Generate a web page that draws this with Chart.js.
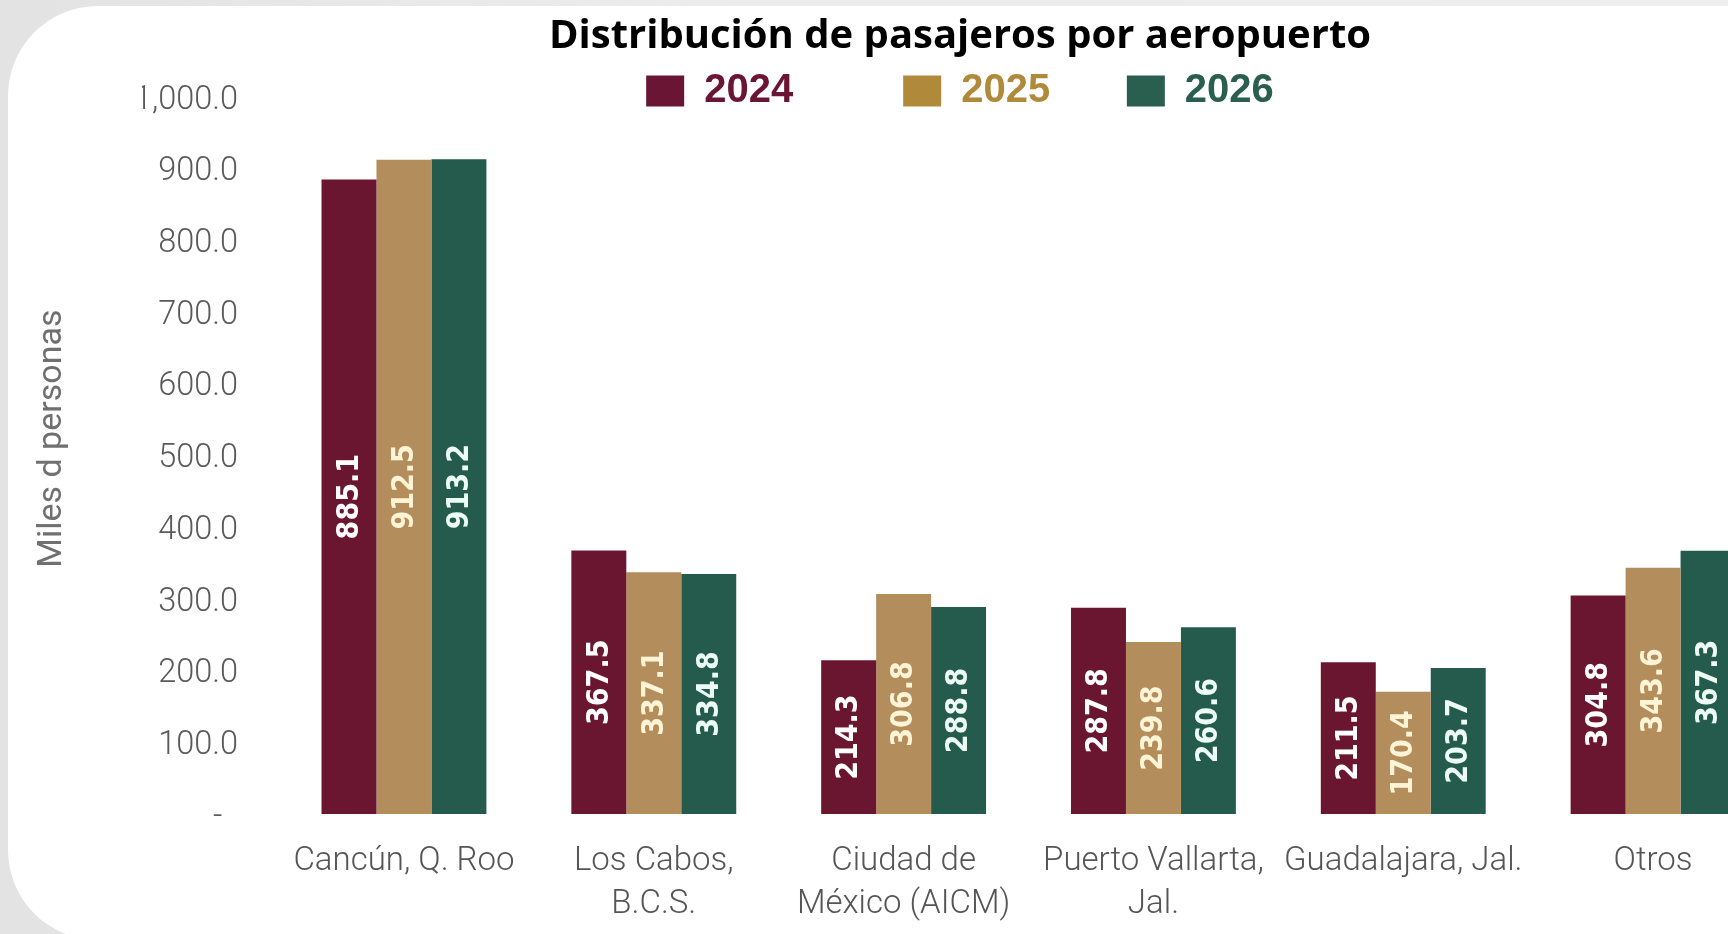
<!DOCTYPE html>
<html>
<head>
<meta charset="utf-8">
<script src="https://cdn.jsdelivr.net/npm/chart.js@4.4.1/dist/chart.umd.min.js"></script>
<style>
  html, body { margin: 0; padding: 0; width: 1728px; height: 934px; overflow: hidden; }
  body { background: linear-gradient(to right, #e3e3e3, #ececec 40%, #eeeeee); position: relative; }
  #card { position: absolute; left: 8px; top: 6px; width: 2000px; height: 934px; background: #ffffff;
          border-radius: 90px 0 0 90px; }
  #c { position: absolute; left: 0; top: 0; }
</style>
</head>
<body>
<div id="card"></div>
<canvas id="c" width="1800" height="952"></canvas>
<script>
// ---- data ----
const categories = [
  ['Cancún, Q. Roo'],
  ['Los Cabos,', 'B.C.S.'],
  ['Ciudad de', 'México (AICM)'],
  ['Puerto Vallarta,', 'Jal.'],
  ['Guadalajara, Jal.'],
  ['Otros']
];
const seriesNames = ['2024', '2025', '2026'];
const values2024 = [885.1, 367.5, 214.3, 287.8, 211.5, 304.8];
const values2025 = [912.5, 337.1, 306.8, 239.8, 170.4, 343.6];
const values2026 = [913.2, 334.8, 288.8, 260.6, 203.7, 367.3];
const yTicks = [0, 100, 200, 300, 400, 500, 600, 700, 800, 900, 1000];

const chartTitle = 'Distribución de pasajeros por aeropuerto';
const yTitle = 'Miles d personas';

// ---- styles ----
const barColors = ['#6a1631', '#b38e5c', '#245b4d'];
const legendColors = ['#6b1535', '#b08a3a', '#2a5e4e'];
const valueLabelColors = ['#ffffff', '#fff4d6', '#ecfbf3'];
const legendGapSpaces = [9, 6, 0];

const barLabelsPlugin = {
  id: 'barLabels',
  afterDatasetsDraw(chart) {
    const ctx = chart.ctx;
    chart.data.datasets.forEach((ds, i) => {
      const meta = chart.getDatasetMeta(i);
      meta.data.forEach((bar, j) => {
        const p = bar.getProps(['x', 'y', 'base'], true);
        ctx.save();
        ctx.translate(p.x, (p.y + p.base) / 2);
        ctx.rotate(-Math.PI / 2);
        ctx.font = 'bold 30px "DejaVu Sans Condensed", "DejaVu Sans", sans-serif';
        ctx.fillStyle = valueLabelColors[i];
        ctx.textAlign = 'center';
        ctx.textBaseline = 'middle';
        ctx.fillText(ds.data[j].toFixed(1), 0, 1);
        ctx.restore();
      });
    });
  }
};

// legend box is kept short in the layout so the plot can start right under it;
// widen its clip box afterwards so the items are not cut.
const legendOverflowPlugin = {
  id: 'legendOverflow',
  afterLayout(chart) {
    const lg = chart.legend;
    if (lg) { lg.height = 70; lg.bottom = lg.top + 70; }
  }
};

const datasets = [values2024, values2025, values2026].map((vals, i) => ({
  label: seriesNames[i],
  data: vals,
  backgroundColor: barColors[i],
  borderWidth: 0,
  categoryPercentage: 0.66,
  barPercentage: 1.0,
  clip: false
}));

new Chart(document.getElementById('c'), {
  type: 'bar',
  data: { labels: categories, datasets },
  plugins: [barLabelsPlugin, legendOverflowPlugin],
  options: {
    responsive: false,
    devicePixelRatio: 1,
    animation: false,
    layout: { padding: { left: 142, right: 22, top: 0, bottom: 0 } },
    plugins: {
      tooltip: { enabled: false },
      title: {
        display: true,
        text: chartTitle,
        color: '#000000',
        font: { family: '"Open Sans", "Noto Sans", sans-serif', size: 40, weight: 'bold', lineHeight: 1.2 },
        padding: { top: 13, bottom: 0 }
      },
      legend: {
        display: true,
        position: 'top',
        maxHeight: 36,
        labels: {
          boxWidth: 38,
          boxHeight: 31,
          padding: 10,
          font: { family: '"Liberation Sans", Arial, sans-serif', size: 40, weight: 'bold' },
          generateLabels(chart) {
            return chart.data.datasets.map((ds, i) => ({
              text: ds.label + '\u00a0'.repeat(legendGapSpaces[i]),
              fillStyle: legendColors[i],
              strokeStyle: legendColors[i],
              fontColor: legendColors[i],
              lineWidth: 0,
              hidden: false,
              datasetIndex: i
            }));
          }
        }
      }
    },
    scales: {
      x: {
        grid: { display: false, drawTicks: false },
        border: { display: false },
        ticks: {
          autoSkip: false,
          maxRotation: 0,
          minRotation: 0,
          padding: 26,
          color: '#555555',
          font: { family: 'Roboto, "Noto Sans", sans-serif', size: 33, weight: 300, lineHeight: 1.303 }
        }
      },
      y: {
        min: 0,
        max: 1000,
        afterBuildTicks(axis) { axis.ticks = yTicks.map(v => ({ value: v })); },
        grid: { display: false, drawTicks: false },
        border: { display: false },
        ticks: {
          padding: 41,
          labelOffset: 3.5,
          color: '#5a5a5a',
          font: { family: 'Roboto, "Noto Sans", sans-serif', size: 32.5, weight: 300 },
          callback(value) {
            if (value === 0) return '-\u00a0\u00a0';
            return value.toLocaleString('en-US', { minimumFractionDigits: 1, maximumFractionDigits: 1 });
          }
        },
        title: {
          display: true,
          text: '\u00a0\u00a0\u00a0\u00a0' + yTitle,
          color: '#707070',
          font: { family: 'Roboto, "Noto Sans", sans-serif', size: 34, weight: 'normal', lineHeight: 1.2 },
          padding: { top: -110.4, bottom: 20.5 }
        }
      }
    }
  }
});
</script>
</body>
</html>
